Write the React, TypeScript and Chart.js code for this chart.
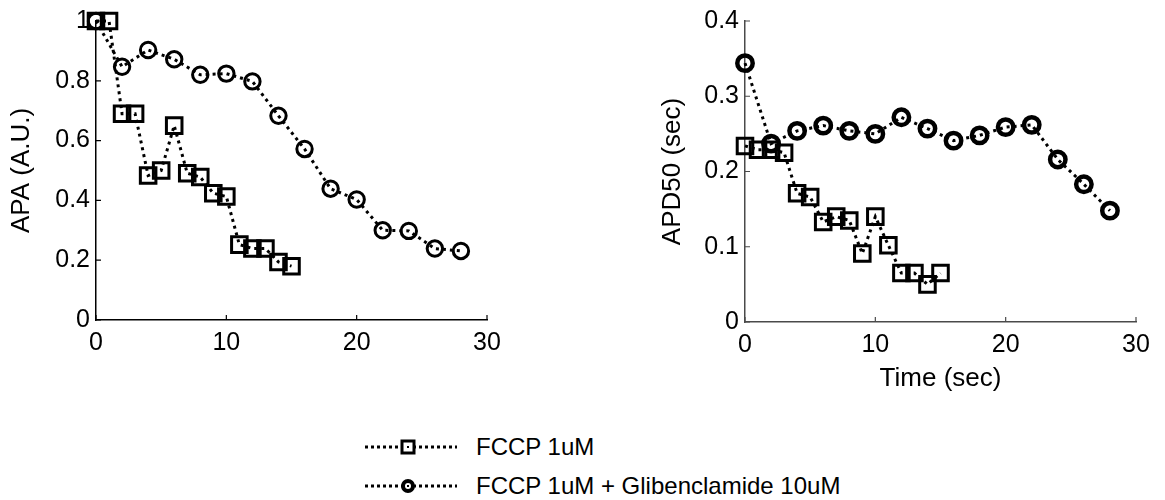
import React, { useEffect, useRef } from "react";
import { Chart, registerables } from "chart.js";

Chart.register(...registerables);

// ---- Data ----
const timeFccp = [0, 1, 2, 3, 4, 5, 6, 7, 8, 9, 10, 11, 12, 13, 14, 15];
const timeGlib = [0, 2, 4, 6, 8, 10, 12, 14, 16, 18, 20, 22, 24, 26, 28];

const apaFccp = [1, 1, 0.69, 0.69, 0.483, 0.5, 0.65, 0.491, 0.478, 0.424, 0.413, 0.252, 0.239, 0.239, 0.194, 0.18];
const apaGlib = [1, 0.847, 0.903, 0.872, 0.82, 0.824, 0.798, 0.683, 0.572, 0.439, 0.403, 0.3, 0.298, 0.239, 0.231];

const apdFccp = [0.234, 0.229, 0.229, 0.225, 0.171, 0.166, 0.133, 0.14, 0.135, 0.091, 0.14, 0.102, 0.065, 0.065, 0.05, 0.065];
const apdGlib = [0.344, 0.237, 0.254, 0.261, 0.254, 0.25, 0.272, 0.257, 0.241, 0.248, 0.259, 0.262, 0.216, 0.183, 0.148];

const xTicks = [0, 10, 20, 30];
const apaTicks = [0, 0.2, 0.4, 0.6, 0.8, 1];
const apdTicks = [0, 0.1, 0.2, 0.3, 0.4];

const labelFccp = "FCCP 1uM";
const labelGlib = "FCCP 1uM + Glibenclamide 10uM";

const FONT = '"Liberation Sans", Arial, sans-serif';

const toXY = (xs: number[], ys: number[]) => xs.map((x, i) => ({ x, y: ys[i] }));

const inwardTicks = (color: string) => ({
  id: "inwardTicks",
  afterDraw(chart: any) {
    const ctx = chart.ctx;
    const xs = chart.scales.x;
    const ys = chart.scales.y;
    const area = chart.chartArea;
    ctx.save();
    ctx.strokeStyle = color;
    ctx.lineWidth = 1.2;
    ctx.beginPath();
    xs.ticks.forEach((t: any) => {
      const px = xs.getPixelForValue(t.value);
      ctx.moveTo(px, area.bottom);
      ctx.lineTo(px, area.bottom - 5);
    });
    ys.ticks.forEach((t: any) => {
      const py = ys.getPixelForValue(t.value);
      ctx.moveTo(area.left, py);
      ctx.lineTo(area.left + 5, py);
    });
    ctx.stroke();
    ctx.restore();
  },
});

type Cfg = {
  fccp: number[];
  glib: number[];
  yTicks: number[];
  yMax: number;
  yTitle: string;
  yTitlePad: number;
  xTitle?: string;
  yAxisWidth: number;
  xAxisHeight: number;
  padRight: number;
  axisColor: string;
  circleBorder: number;
};

function makeChart(canvas: HTMLCanvasElement, c: Cfg) {
  const lineCommon = {
    showLine: true,
    borderColor: "#000",
    borderWidth: 3,
    borderDash: [3, 4],
    pointBorderColor: "#000",
    pointBackgroundColor: "rgba(0,0,0,0)",
    clip: false as any,
    tension: 0,
  };
  return new Chart(canvas, {
    type: "scatter",
    data: {
      datasets: [
        {
          ...lineCommon,
          label: labelFccp,
          data: toXY(timeFccp, c.fccp),
          pointStyle: "rect",
          pointRadius: 11,
          pointBorderWidth: 3,
        } as any,
        {
          ...lineCommon,
          label: labelGlib,
          data: toXY(timeGlib, c.glib),
          pointStyle: "circle",
          pointRadius: 7.7,
          pointBorderWidth: c.circleBorder,
        } as any,
      ],
    },
    options: {
      animation: false,
      responsive: false,
      maintainAspectRatio: false,
      events: [],
      layout: { padding: { top: 20, right: c.padRight, left: 0, bottom: 0 } },
      plugins: { legend: { display: false }, tooltip: { enabled: false } },
      scales: {
        x: {
          type: "linear",
          min: 0,
          max: 30,
          afterBuildTicks: (s: any) => {
            s.ticks = xTicks.map((v) => ({ value: v }));
          },
          afterFit: (s: any) => {
            s.height = c.xAxisHeight;
          },
          grid: { display: true, drawOnChartArea: false, drawTicks: false, color: "rgba(0,0,0,0)" },
          border: { display: true, color: c.axisColor, width: 1.5 },
          ticks: {
            color: "#000",
            padding: 8,
            maxRotation: 0,
            font: { family: FONT, size: 25, lineHeight: 1.2 },
            callback: (v: any) => String(v),
          },
          title: c.xTitle
            ? {
                display: true,
                text: c.xTitle,
                color: "#000",
                font: { family: FONT, size: 26, lineHeight: 1.2 },
                padding: { top: 0, bottom: 5.4 },
              }
            : { display: false },
        },
        y: {
          type: "linear",
          min: 0,
          max: c.yMax,
          afterBuildTicks: (s: any) => {
            s.ticks = c.yTicks.map((v) => ({ value: v }));
          },
          afterFit: (s: any) => {
            s.width = c.yAxisWidth;
          },
          grid: { display: true, drawOnChartArea: false, drawTicks: false, color: "rgba(0,0,0,0)" },
          border: { display: true, color: c.axisColor, width: 1.5 },
          ticks: {
            color: "#000",
            padding: 6,
            font: { family: FONT, size: 25, lineHeight: 1.2 },
            callback: (v: any) => String(+Number(v).toFixed(2)),
          },
          title: {
            display: true,
            text: c.yTitle,
            color: "#000",
            font: { family: FONT, size: 26, lineHeight: 1.2 },
            padding: { top: c.yTitlePad, bottom: 0 },
          },
        },
      },
    },
    plugins: [inwardTicks(c.axisColor)],
  } as any);
}

function LegendRow({ top, marker, text }: { top: number; marker: "rect" | "circle"; text: string }) {
  return (
    <div
      style={{
        position: "absolute",
        left: 365,
        top: top - 14,
        height: 28,
        display: "flex",
        alignItems: "center",
        fontFamily: FONT,
        fontSize: 24,
        color: "#000",
        whiteSpace: "nowrap",
      }}
    >
      <svg width={92} height={20} style={{ display: "block" }}>
        <line x1={0} y1={10} x2={92} y2={10} stroke="#000" strokeWidth={3} strokeDasharray="3 3" />
        {marker === "rect" ? (
          <rect x={37} y={4} width={12} height={12} fill="#fff" stroke="#000" strokeWidth={3} />
        ) : (
          <circle cx={43} cy={10} r={5} fill="#fff" stroke="#000" strokeWidth={4} />
        )}
        <rect x={42} y={9} width={2} height={2} fill="#000" />
      </svg>
      <span style={{ marginLeft: 19, lineHeight: "28px" }}>{text}</span>
    </div>
  );
}

export default function App() {
  const leftRef = useRef<HTMLCanvasElement>(null);
  const rightRef = useRef<HTMLCanvasElement>(null);

  useEffect(() => {
    const a = makeChart(leftRef.current!, {
      fccp: apaFccp,
      glib: apaGlib,
      yTicks: apaTicks,
      yMax: 1,
      yTitle: "APA (A.U.)",
      yTitlePad: 6.4,
      yAxisWidth: 96,
      xAxisHeight: 80,
      padRight: 73,
      axisColor: "#000",
      circleBorder: 3,
    });
    const b = makeChart(rightRef.current!, {
      fccp: apdFccp,
      glib: apdGlib,
      yTicks: apdTicks,
      yMax: 0.4,
      yTitle: "APD50 (sec)",
      yTitlePad: 7.4,
      xTitle: "Time (sec)",
      yAxisWidth: 95,
      xAxisHeight: 78,
      padRight: 29,
      axisColor: "#4a4a4a",
      circleBorder: 4.5,
    });
    return () => {
      a.destroy();
      b.destroy();
    };
  }, []);

  return (
    <div style={{ position: "absolute", left: 0, top: 0, width: 1165, height: 500, background: "#fff", overflow: "hidden" }}>
      <canvas ref={leftRef} width={560} height={400} style={{ position: "absolute", left: 0, top: 0, width: 560, height: 400 }} />
      <canvas ref={rightRef} width={515} height={400} style={{ position: "absolute", left: 650, top: 0, width: 515, height: 400 }} />
      <LegendRow top={447} marker="rect" text={labelFccp} />
      <LegendRow top={486} marker="circle" text={labelGlib} />
    </div>
  );
}
